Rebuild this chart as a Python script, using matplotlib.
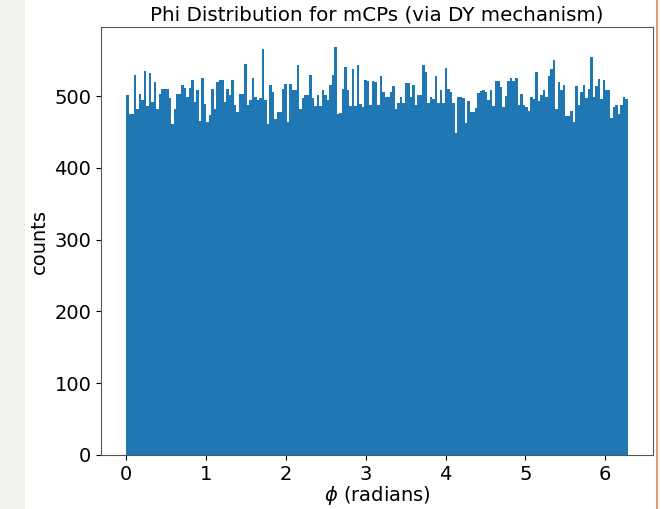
import numpy as np
import matplotlib.pyplot as plt
from matplotlib.patches import Rectangle

# counts per bin (200 bins between 0 and 2*pi)
counts = [
    502, 475, 475, 529, 482, 503, 494, 535, 487, 532,
    492, 520, 482, 503, 510, 510, 510, 498, 461, 482,
    503, 503, 516, 512, 499, 512, 522, 492, 508, 466,
    526, 489, 464, 474, 510, 482, 520, 522, 522, 492,
    510, 501, 522, 488, 478, 503, 503, 545, 488, 494,
    526, 499, 494, 497, 566, 494, 461, 515, 506, 468,
    478, 478, 510, 517, 464, 517, 508, 508, 544, 482,
    497, 501, 502, 529, 497, 487, 501, 487, 509, 502,
    494, 515, 529, 568, 475, 476, 510, 541, 508, 487,
    538, 487, 544, 489, 485, 522, 521, 488, 521, 520,
    488, 528, 506, 499, 499, 506, 514, 482, 491, 499,
    491, 519, 519, 499, 516, 488, 502, 502, 544, 533,
    490, 499, 496, 528, 490, 508, 490, 539, 510, 506,
    490, 449, 499, 499, 497, 463, 493, 478, 478, 483,
    505, 507, 508, 506, 494, 508, 487, 521, 521, 513,
    485, 500, 521, 525, 521, 525, 488, 503, 488, 485,
    480, 499, 496, 533, 493, 502, 508, 499, 528, 538,
    550, 482, 520, 508, 516, 473, 472, 480, 464, 514,
    488, 506, 516, 497, 510, 555, 499, 514, 524, 496,
    522, 508, 508, 469, 485, 488, 475, 488, 499, 496,
]
phi_min = 0.0
phi_max = 2 * np.pi

edges = np.linspace(phi_min, phi_max, len(counts) + 1)
centers = 0.5 * (edges[:-1] + edges[1:])

fig = plt.figure(figsize=(6.61, 5.09), dpi=100)
fig.patch.set_facecolor('white')

# screenshot frame: beige strip on the left, thin red line on the right
fig.add_artist(Rectangle((0, 0), 25 / 661, 1, transform=fig.transFigure,
                         facecolor='#f4f2ee', edgecolor='none'))
fig.add_artist(Rectangle((656 / 661, 0), 2 / 661, 1, transform=fig.transFigure,
                         facecolor='#e9967a', edgecolor='none'))

ax = fig.add_axes([101 / 661, 54 / 509, 552 / 661, 428 / 509])
ax.hist(centers, bins=edges, weights=counts, color='#1f77b4')

ax.set_title("Phi Distribution for mCPs (via DY mechanism)", fontsize=14.3, pad=5)
ax.set_xlabel(r"$\phi$ (radians)", fontsize=14, labelpad=0)
ax.set_ylabel("counts", fontsize=14)
ax.tick_params(labelsize=14)

for s in ax.spines.values():
    s.set_color('#555555')

fig.savefig("out.png", dpi=100)
